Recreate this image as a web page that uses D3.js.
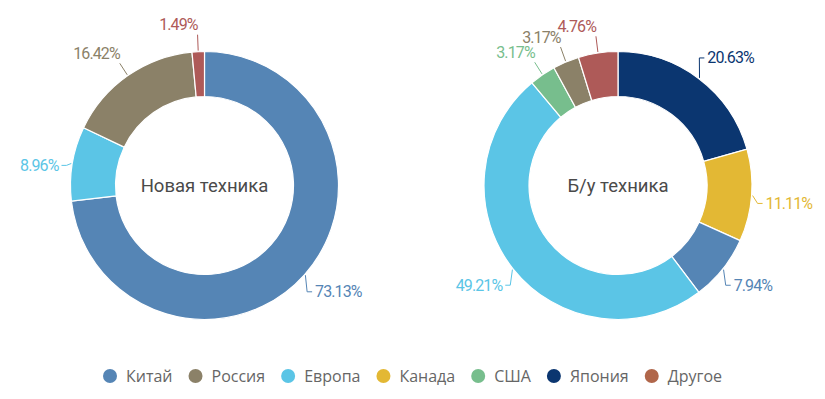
<!DOCTYPE html>
<html>
<head>
<meta charset="utf-8">
<script src="https://cdn.jsdelivr.net/npm/d3@7"></script>
<style>
  html, body { margin: 0; padding: 0; background: #ffffff; }
  svg { display: block; }
</style>
</head>
<body>
<svg id="chart" width="825" height="399"></svg>
<script>
// ---- data ----
const legendCategories = ["Китай", "Россия", "Европа", "Канада", "США", "Япония", "Другое"];
const chartTitles = ["Новая техника", "Б/у техника"];
const newCategories = ["Китай", "Европа", "Россия", "Другое"];
const newValues = [73.13, 8.96, 16.42, 1.49];
const usedCategories = ["Япония", "Канада", "Китай", "Европа", "США", "Россия", "Другое"];
const usedValues = [20.63, 11.11, 7.94, 49.21, 3.17, 3.17, 4.76];

// ---- styles ----
const sliceColors = ["#5585b5", "#8b8168", "#5bc5e6", "#e3b834", "#77be8d", "#0b3670", "#ae5a58"];
const legendColors = ["#5585b5", "#8b8168", "#5bc5e6", "#e3b834", "#77be8d", "#0b3670", "#b0664a"];
const color = d3.scaleOrdinal().domain(legendCategories).range(sliceColors);
const legendColor = d3.scaleOrdinal().domain(legendCategories).range(legendColors);

const W = 825, H = 399;
const svg = d3.select("#chart");
const outerR = 134, innerR = 89;
const centers = [[204.5, 185.5], [618, 185.5]];
const datasets = [
  {cats: newCategories, vals: newValues, title: chartTitles[0]},
  {cats: usedCategories, vals: usedValues, title: chartTitles[1]}
];

const pie = d3.pie().sort(null).value(d => d.v).startAngle(0).endAngle(2 * Math.PI);
const arc = d3.arc().innerRadius(innerR).outerRadius(outerR);

datasets.forEach((ds, i) => {
  const [cx, cy] = centers[i];
  const g = svg.append("g").attr("transform", `translate(${cx},${cy})`);
  const rows = ds.cats.map((c, k) => ({c, v: ds.vals[k]}));
  const arcs = pie(rows);

  g.selectAll("path.slice").data(arcs).enter().append("path")
    .attr("class", "slice")
    .attr("d", arc)
    .attr("fill", d => color(d.data.c))
    .attr("stroke", "#ffffff")
    .attr("stroke-width", 1.2);

  g.append("text")
    .attr("x", 0).attr("y", 0)
    .attr("text-anchor", "middle")
    .attr("dominant-baseline", "central")
    .attr("font-family", "Roboto, 'Open Sans', sans-serif")
    .attr("font-size", 18.5)
    .attr("fill", "#4a4a4a")
    .text(ds.title);

  arcs.forEach(d => {
    const a = (d.startAngle + d.endAngle) / 2;
    const s = Math.sin(a), c = Math.cos(a);
    const col = color(d.data.c);
    const ax = (outerR + 1) * s, ay = -(outerR + 1) * c;
    const px = (outerR + 14) * s;
    const py = -(outerR + 26) * c + (c < 0.2 && c > -0.2 ? 6 : 0);
    const top = c > 0.8;
    const right = s >= 0;
    const anchor = right ? "start" : "end";
    let pts;
    if (top) {
      pts = [[ax, ay], [px, py + 9]];
    } else {
      const dir = right ? 1 : -1;
      pts = [[ax, ay], [px - dir * 8, py], [px - dir * 3, py]];
    }
    g.append("path")
      .attr("d", d3.line()(pts))
      .attr("fill", "none")
      .attr("stroke", col)
      .attr("stroke-width", 1);
    g.append("text")
      .attr("x", px)
      .attr("y", top ? py - 1 : py)
      .attr("text-anchor", anchor)
      .attr("dominant-baseline", "central")
      .attr("font-family", "Roboto, 'Open Sans', sans-serif")
      .attr("font-size", 16)
      .attr("letter-spacing", -0.9)
      .attr("fill", col)
      .text(d.data.v.toFixed(2) + "%");
  });
});

// ---- legend ----
const legend = svg.append("g");
let x = 0;
legendCategories.forEach(cat => {
  const it = legend.append("g").attr("transform", `translate(${x},0)`);
  it.append("circle").attr("cx", 7).attr("cy", 0).attr("r", 7).attr("fill", legendColor(cat));
  const t = it.append("text")
    .attr("x", 23).attr("y", 0)
    .attr("dominant-baseline", "central")
    .attr("font-family", "'Open Sans', sans-serif")
    .attr("font-size", 16)
    .attr("fill", "#666666")
    .text(cat);
  const w = t.node().getComputedTextLength();
  x += 23 + w + 16;
});
const totalW = x - 16;
legend.attr("transform", `translate(${(W - totalW) / 2},376)`);
</script>
</body>
</html>
